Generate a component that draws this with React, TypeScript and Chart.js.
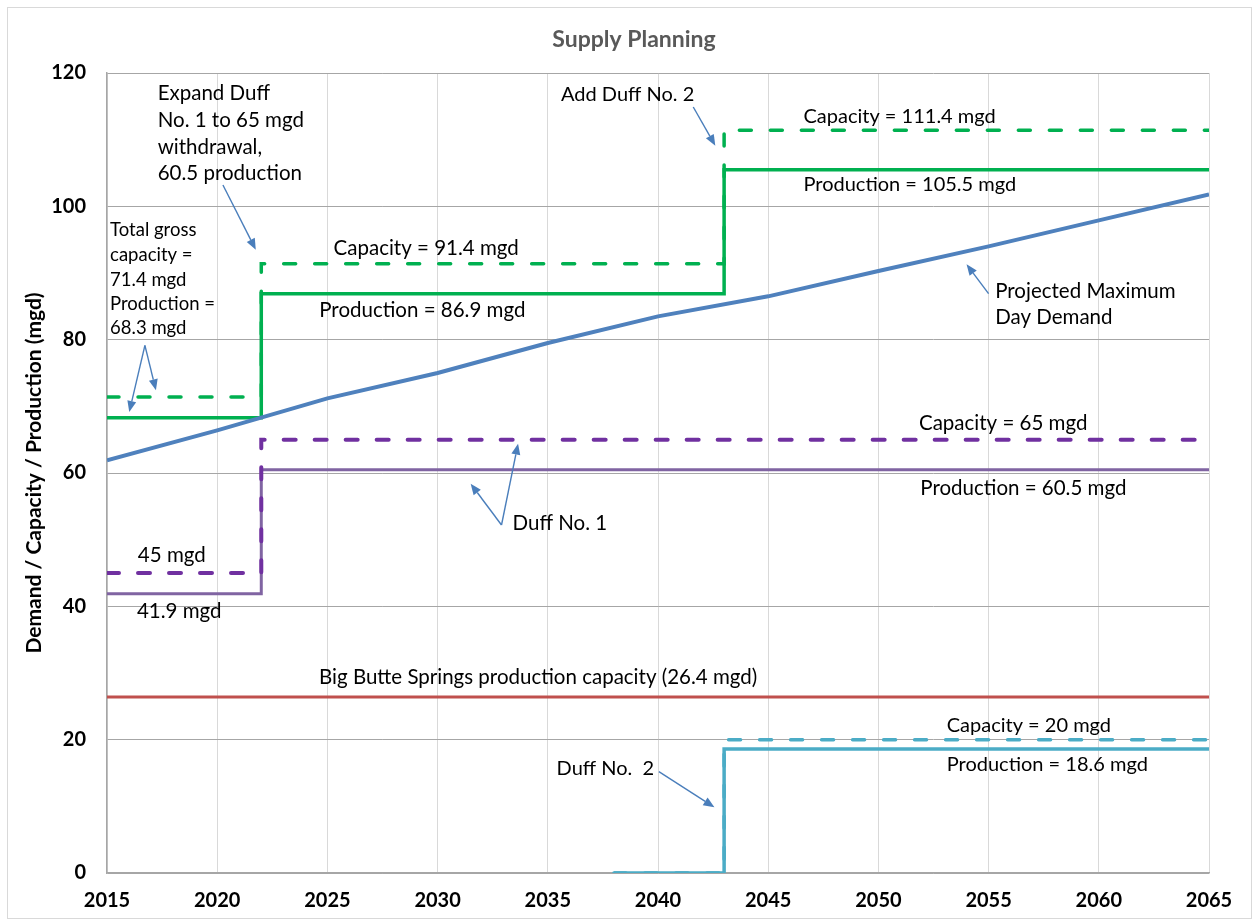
import React, { useEffect, useRef } from 'react';
import { Chart, registerables } from 'chart.js';

Chart.register(...registerables);

const FONT = 'Lato, "Noto Sans", sans-serif';

// Projected maximum day demand
const demandYears = [2015, 2020, 2025, 2030, 2035, 2040, 2045, 2050, 2055, 2060, 2065];
const demandValues = [61.9, 66.4, 71.2, 75.0, 79.5, 83.5, 86.5, 90.3, 94.0, 97.9, 101.8];

// Total production / capacity (green)
const totalYears = [2015, 2022, 2043, 2065];
const totalProduction = [68.3, 86.9, 105.5, 105.5];
const totalCapacity = [71.4, 91.4, 111.4, 111.4];

// Duff No. 1 (purple)
const duff1Years = [2015, 2022, 2065];
const duff1Production = [41.9, 60.5, 60.5];
const duff1Capacity = [45, 65, 65];

// Big Butte Springs (red)
const butteYears = [2015, 2065];
const butteProduction = [26.4, 26.4];

// Duff No. 2 (cyan)
const duff2Years = [2038, 2043, 2065];
const duff2Production = [0, 18.6, 18.6];
const duff2Capacity = [0, 20, 20];

// Axis
const xMin = 2015;
const xMax = 2065;
const yMin = 0;
const yMax = 120;

// Annotation texts: [text, year, value, size]
const noteTexts: [string, number, number, number][] = [
  ['Expand Duff', 2017.3, 116.95, 20.5],
  ['No. 1 to 65 mgd', 2017.3, 112.9, 20.5],
  ['withdrawal,', 2017.3, 108.85, 20.5],
  ['60.5 production', 2017.3, 104.95, 20.5],
  ['Total gross', 2015.14, 96.4, 18.5],
  ['capacity =', 2015.14, 92.65, 18.5],
  ['71.4 mgd', 2015.14, 88.9, 18.5],
  ['Production =', 2015.14, 85.3, 18.5],
  ['68.3 mgd', 2015.14, 81.7, 18.5],
  ['Capacity = 91.4 mgd', 2025.28, 93.65, 20.5],
  ['Production = 86.9 mgd', 2024.63, 84.4, 20.5],
  ['Add Duff No. 2', 2035.6, 116.7, 20],
  ['Capacity = 111.4 mgd', 2046.6, 113.4, 20],
  ['Production = 105.5 mgd', 2046.6, 103.3, 20],
  ['Projected Maximum', 2055.3, 87.3, 20.5],
  ['Day Demand', 2055.3, 83.3, 20.5],
  ['Capacity = 65 mgd', 2051.84, 67.4, 20.5],
  ['Production = 60.5 mgd', 2051.9, 57.65, 20.5],
  ['Duff No. 1', 2033.4, 52.4, 20.5],
  ['45 mgd', 2016.4, 47.7, 20.5],
  ['41.9 mgd', 2016.36, 39.25, 20.5],
  ['Big Butte Springs production capacity (26.4 mgd)', 2024.62, 29.4, 20.5],
  ['Capacity = 20 mgd', 2053.1, 22.1, 20],
  ['Production = 18.6 mgd', 2053.1, 16.2, 20],
  ['Duff No.  2', 2035.4, 15.6, 20],
];

// Arrows: [fromYear, fromValue, toYear, toValue]
const noteArrows: [number, number, number, number][] = [
  [2020.26, 103.2, 2021.75, 93.5],
  [2016.72, 79.15, 2017.22, 72.4],
  [2016.72, 79.15, 2016.01, 69.15],
  [2041.6, 114.9, 2042.6, 109.1],
  [2055.0, 86.9, 2054.0, 91.3],
  [2032.9, 52.2, 2031.5, 58.4],
  [2032.9, 52.2, 2033.65, 64.4],
  [2040.04, 15.2, 2042.56, 9.85],
];

const pts = (xs: number[], ys: number[]) => xs.map((x, i) => ({ x, y: ys[i] }));

const annotationPlugin = {
  id: 'annotations',
  afterDatasetsDraw(chart: any) {
    const { ctx, scales } = chart;
    const xs = scales.x;
    const ys = scales.y;
    ctx.save();
    // arrows
    ctx.strokeStyle = '#4A7EBB';
    ctx.fillStyle = '#4A7EBB';
    ctx.lineWidth = 1.4;
    noteArrows.forEach(([x1, y1, x2, y2]) => {
      const px1 = xs.getPixelForValue(x1);
      const py1 = ys.getPixelForValue(y1);
      const px2 = xs.getPixelForValue(x2);
      const py2 = ys.getPixelForValue(y2);
      const ang = Math.atan2(py2 - py1, px2 - px1);
      const len = 11;
      const hw = 4.5;
      const bx = px2 - len * Math.cos(ang);
      const by = py2 - len * Math.sin(ang);
      ctx.beginPath();
      ctx.moveTo(px1, py1);
      ctx.lineTo(bx, by);
      ctx.stroke();
      ctx.beginPath();
      ctx.moveTo(px2, py2);
      ctx.lineTo(bx + hw * Math.sin(ang), by - hw * Math.cos(ang));
      ctx.lineTo(bx - hw * Math.sin(ang), by + hw * Math.cos(ang));
      ctx.closePath();
      ctx.fill();
    });
    // texts
    ctx.fillStyle = '#000000';
    ctx.textAlign = 'left';
    ctx.textBaseline = 'middle';
    noteTexts.forEach(([t, x, y, size]) => {
      ctx.font = `${size}px ${FONT}`;
      ctx.fillText(t, xs.getPixelForValue(x), ys.getPixelForValue(y));
    });
    // title
    ctx.font = `bold 23px ${FONT}`;
    ctx.fillStyle = '#595959';
    ctx.textAlign = 'center';
    ctx.fillText('Supply Planning', 634, 40);
    // chart frame
    ctx.strokeStyle = '#D9D9D9';
    ctx.lineWidth = 1;
    ctx.strokeRect(7.5, 7.5, 1244, 911);
    ctx.restore();
  },
};

export default function App() {
  const ref = useRef<HTMLCanvasElement | null>(null);

  useEffect(() => {
    document.body.style.margin = '0';
    const canvas = ref.current;
    if (!canvas) return;
    const line = (data: any, color: string, width: number, dash: number[] = [], stepped: any = false) => ({
      data,
      borderColor: color,
      backgroundColor: color,
      borderWidth: width,
      borderDash: dash,
      borderCapStyle: dash.length ? 'round' : 'butt',
      borderJoinStyle: 'miter',
      pointRadius: 0,
      tension: 0,
      fill: false,
      stepped,
    });
    const chart = new Chart(canvas, {
      type: 'line',
      data: {
        datasets: [
          { label: 'Projected Maximum Day Demand', ...line(pts(demandYears, demandValues), '#4F81BD', 4) },
          { label: 'Duff No. 2 capacity', ...line(pts(duff2Years, duff2Capacity), '#4BACC6', 3.5, [12, 19], true) },
          { label: 'Duff No. 2 production', ...line(pts(duff2Years, duff2Production), '#4BACC6', 3.5, [], true) },
          { label: 'Total capacity', ...line(pts(totalYears, totalCapacity), '#00B050', 3.5, [12, 19], true) },
          { label: 'Total production', ...line(pts(totalYears, totalProduction), '#00B050', 3.5, [], true) },
          { label: 'Duff No. 1 capacity', ...line(pts(duff1Years, duff1Capacity), '#7030A0', 4, [12, 19], true) },
          { label: 'Duff No. 1 production', ...line(pts(duff1Years, duff1Production), '#8064A2', 3, [], true) },
          { label: 'Big Butte Springs', ...line(pts(butteYears, butteProduction), '#C0504D', 3) },
        ],
      },
      options: {
        responsive: false,
        animation: false,
        layout: { padding: { left: 0, right: 51, top: 73, bottom: 0 } },
        plugins: {
          legend: { display: false },
          tooltip: { enabled: false },
          title: { display: false },
        },
        scales: {
          x: {
            type: 'linear',
            min: xMin,
            max: xMax,
            ticks: {
              stepSize: 5,
              color: '#000000',
              padding: 16,
              font: { family: FONT, size: 20, weight: 'bold' },
              callback: (v: any) => String(v),
            },
            grid: { color: '#D9D9D9', drawTicks: false },
            border: { color: '#A6A6A6', width: 1.5 },
            afterFit: (s: any) => {
              s.height = 47;
            },
          },
          y: {
            min: yMin,
            max: yMax,
            ticks: {
              stepSize: 20,
              color: '#000000',
              padding: 21,
              font: { family: FONT, size: 20, weight: 'bold' },
            },
            grid: { color: '#A6A6A6', drawTicks: false },
            border: { color: '#A6A6A6', width: 1.5 },
            title: {
              display: true,
              text: 'Demand / Capacity / Production (mgd)',
              color: '#000000',
              font: { family: FONT, size: 21, weight: 'bold' },
              padding: { top: 22, bottom: 0 },
            },
            afterFit: (s: any) => {
              s.width = 107;
            },
          },
        },
      } as any,
      plugins: [annotationPlugin],
    });
    return () => chart.destroy();
  }, []);

  return <canvas ref={ref} width={1260} height={920} style={{ display: 'block' }} />;
}
